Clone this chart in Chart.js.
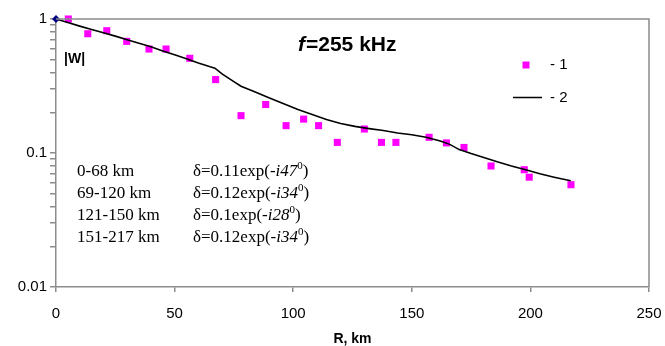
<!DOCTYPE html>
<html>
<head>
<meta charset="utf-8">
<script src="https://cdn.jsdelivr.net/npm/chart.js@4/dist/chart.umd.min.js"></script>
<style>
html,body{margin:0;padding:0;background:#fff;}
#c{display:block;}
</style>
</head>
<body>
<canvas id="c" width="665" height="346"></canvas>
<script>
// Series 1: measured |W| (magenta squares)
const R_POINTS = [5.2,13.4,21.4,29.8,39.2,46.4,56.4,67.3,78,88.4,97,104.4,110.7,118.6,130,137.2,143.3,157.3,164.6,172,183.4,197.4,199.5,217.1];
const W_POINTS = [1.0,0.776,0.818,0.681,0.597,0.597,0.509,0.353,0.19,0.23,0.16,0.179,0.16,0.12,0.151,0.12,0.12,0.131,0.119,0.11,0.08,0.075,0.066,0.058];

// Series 2: calculated |W| (black line)
const R_LINE = [0,5,10,15,20,25,30,35,40,45,50,55,60,65,67,70,74,78,84,90,96,102,108,114,120,126,132,138,144,150,156,162,166,170,175,180,186,192,198,204,210,217];
const W_LINE = [1.0,0.94,0.885,0.835,0.79,0.745,0.70,0.66,0.62,0.578,0.54,0.505,0.47,0.44,0.43,0.39,0.35,0.315,0.285,0.257,0.233,0.211,0.194,0.178,0.166,0.158,0.152,0.147,0.141,0.137,0.131,0.123,0.116,0.106,0.099,0.093,0.086,0.080,0.075,0.070,0.066,0.062];

// Tick labels
const X_TICKS = [0,50,100,150,200,250];
const Y_LABELS = [1,0.1,0.01];
const Y_MINOR_STEPS = [2,3,4,5,6,7,8,9];

// Annotation text
const TITLE_F = 'f';
const TITLE_REST = '=255 kHz';
const Y_TEXT = '|W|';
const X_TITLE = 'R, km';
const LEGEND_LABELS = ['- 1','- 2'];
const ROW_RANGES = ['0-68 km','69-120 km','121-150 km','151-217 km'];
const ROW_AMP = ['0.11','0.12','0.1','0.12'];
const ROW_PHASE = ['47','34','28','34'];

const SANS = '"Liberation Sans", Arial, sans-serif';
const SERIF = '"Liberation Serif", "Times New Roman", serif';
const AXIS_GRAY = '#8c8c8c';

const pts = R_POINTS.map((x,i)=>({x:x,y:W_POINTS[i]}));
const line = R_LINE.map((x,i)=>({x:x,y:W_LINE[i]}));

// y tick positions: decades plus minor 2..9 within each decade
const yTickValues = [];
Y_LABELS.forEach(d => {
  yTickValues.push(d);
  if (d < 1) Y_MINOR_STEPS.forEach(m => yTickValues.push(Number((d*m).toPrecision(6))));
});
yTickValues.sort((a,b)=>a-b);

const textPlugin = {
  id:'texts',
  afterDraw(chart){
    const ctx = chart.ctx;
    const a = chart.chartArea;
    ctx.save();
    // frame top and right
    ctx.strokeStyle = AXIS_GRAY;
    ctx.lineWidth = 1.5;
    ctx.beginPath();
    ctx.moveTo(a.left, a.top);
    ctx.lineTo(a.right, a.top);
    ctx.lineTo(a.right, a.bottom);
    ctx.stroke();

    ctx.fillStyle = '#000';
    ctx.textBaseline = 'middle';
    ctx.textAlign = 'left';
    // |W|
    ctx.font = 'bold 14px ' + SANS;
    ctx.fillText(Y_TEXT, 64, 59);
    // title
    ctx.font = 'italic bold 21px ' + SANS;
    let x = 298;
    ctx.fillText(TITLE_F, x, 45);
    x += ctx.measureText(TITLE_F).width + 1;
    ctx.font = 'bold 21px ' + SANS;
    ctx.fillText(TITLE_REST, x, 45);

    // legend
    ctx.fillStyle = '#ff00ff';
    ctx.fillRect(522.5, 61.5, 7, 7);
    ctx.strokeStyle = '#000';
    ctx.lineWidth = 1.5;
    ctx.beginPath();
    ctx.moveTo(513, 97.5);
    ctx.lineTo(542, 97.5);
    ctx.stroke();
    ctx.fillStyle = '#000';
    ctx.font = '15px ' + SANS;
    ctx.fillText(LEGEND_LABELS[0], 550, 65);
    ctx.fillText(LEGEND_LABELS[1], 550, 98);

    // text block
    const rowsY = [172, 194, 216, 238];
    for (let i=0;i<ROW_RANGES.length;i++){
      const y = rowsY[i];
      ctx.font = '17px ' + SERIF;
      ctx.fillText(ROW_RANGES[i], 77, y);
      let cx = 193;
      const seg = (txt, font, dy) => {
        ctx.font = font;
        ctx.fillText(txt, cx, y + (dy||0));
        cx += ctx.measureText(txt).width;
      };
      seg('\u03B4=' + ROW_AMP[i] + 'exp(-', '17px ' + SERIF);
      seg('i' + ROW_PHASE[i], 'italic 17px ' + SERIF);
      seg('0', '11px ' + SERIF, -6);
      seg(')', '17px ' + SERIF);
    }
    ctx.restore();
  }
};

function noPad(s){ s.paddingLeft = 0; s.paddingRight = 0; s.paddingTop = 0; s.paddingBottom = 0; }

new Chart(document.getElementById('c'), {
  type:'scatter',
  data:{
    datasets:[
      {
        label:'1',
        data:pts,
        showLine:false,
        pointStyle:'rect',
        pointRadius:5,
        pointHoverRadius:5,
        pointBackgroundColor:'#ff00ff',
        pointBorderWidth:0,
        pointBorderColor:'#ff00ff',
        clip:false,
        order:2
      },
      {
        label:'2',
        data:line,
        showLine:true,
        borderColor:'#000',
        borderWidth:1.6,
        tension:0,
        pointStyle:'rectRot',
        pointRadius:(c)=> c.dataIndex===0 ? 4 : 0,
        pointBackgroundColor:'#000080',
        pointBorderColor:'#000080',
        pointBorderWidth:0,
        clip:false,
        order:1
      }
    ]
  },
  options:{
    responsive:false,
    animation:false,
    events:[],
    layout:{padding:{top:19,right:16,left:0,bottom:0}},
    plugins:{legend:{display:false},tooltip:{enabled:false}},
    scales:{
      x:{
        type:'linear',
        min:0,max:250,
        afterFit(s){ s.height = 59; noPad(s); },
        afterBuildTicks(s){ s.ticks = X_TICKS.map(v=>({value:v})); },
        ticks:{font:{family:SANS,size:15},color:'#000',padding:13,maxRotation:0,autoSkip:false},
        grid:{drawOnChartArea:false,drawTicks:true,tickLength:5,color:AXIS_GRAY,lineWidth:1.5},
        border:{display:true,color:AXIS_GRAY,width:1.5},
        title:{display:true,text:X_TITLE,font:{family:SANS,size:14,weight:'bold'},color:'#000',padding:{top:0,bottom:-2}}
      },
      y:{
        type:'logarithmic',
        min:0.01,max:1,
        afterFit(s){ s.width = 56; noPad(s); },
        afterBuildTicks(s){ s.ticks = yTickValues.map(v=>({value:v, major:Y_LABELS.includes(v)})); },
        ticks:{
          font:{family:SANS,size:15},color:'#000',padding:3,autoSkip:false,
          callback:(v)=> Y_LABELS.includes(Number(Number(v).toPrecision(6))) ? String(Number(Number(v).toPrecision(6))) : ''
        },
        grid:{drawOnChartArea:false,drawTicks:true,tickLength:6,color:AXIS_GRAY,lineWidth:1.5},
        border:{display:true,color:AXIS_GRAY,width:1.5}
      }
    }
  },
  plugins:[textPlugin]
});
</script>
</body>
</html>
